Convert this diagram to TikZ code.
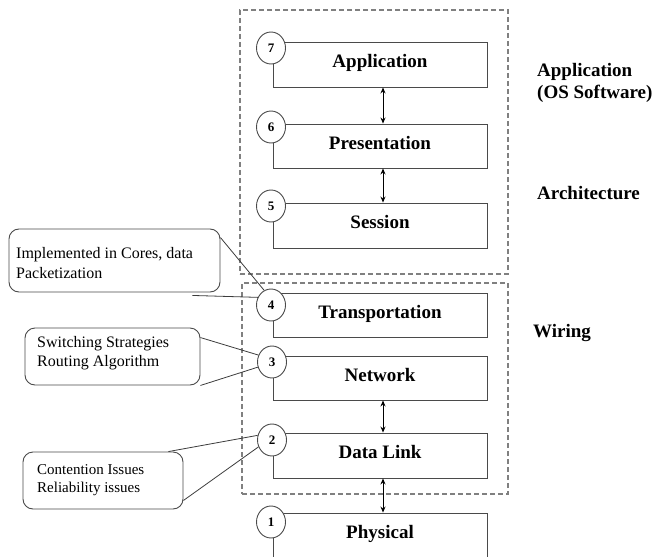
\documentclass[tikz,border=0pt]{standalone}
\usepackage{fontspec}
\setmainfont{Liberation Serif}
\usetikzlibrary{arrows.meta,shapes.geometric,calc}
\definecolor{boxgray}{HTML}{4A4A4A}
\definecolor{dashgray}{HTML}{808080}
\definecolor{leadgray}{HTML}{3C3C3C}

\begin{document}
\begin{tikzpicture}[x=1pt,y=-1pt,
  layerbox/.style={draw=boxgray, line width=0.9pt, minimum width=214pt, minimum height=45pt,
    inner sep=0pt, font=\fontsize{19}{22}\selectfont\bfseries, text height=13pt, text depth=6.5pt},
  num/.style={ellipse, draw=boxgray, fill=white, line width=0.9pt, minimum width=29pt,
    minimum height=32pt, inner sep=0pt, font=\fontsize{13}{15}\selectfont\bfseries},
  groupbox/.style={draw=dashgray, dash pattern=on 5pt off 3pt, line width=1.1pt},
  callout/.style={draw=boxgray, line width=0.9pt, rounded corners=10pt, inner sep=0pt},
  lead/.style={draw=leadgray, line width=0.8pt},
  link/.style={{Stealth[length=6pt,width=5pt]}-{Stealth[length=6pt,width=5pt]}, line width=0.9pt},
  side/.style={font=\fontsize{19}{22}\selectfont\bfseries, anchor=west, align=left, inner sep=0pt},
  note/.style={anchor=west, align=left, inner sep=0pt}
]
\useasboundingbox (0,0) rectangle (652,556);
\clip (0,0) rectangle (652,556);

% dashed groupings
\node[groupbox, minimum width=268pt, minimum height=264pt, inner sep=0pt] (upper) at (374,142) {};
\node[groupbox, minimum width=266pt, minimum height=211pt, inner sep=0pt] (lower) at (375,388.5) {};

% protocol layers
\node[layerbox] (app)   at (380,64.5)  {Application};
\node[layerbox, minimum height=44pt] (pres)  at (380,146) {Presentation};
\node[layerbox] (sess)  at (380,225.5) {Session};
\node[layerbox, minimum height=44pt] (trans) at (380,315) {Transportation};
\node[layerbox, minimum height=44pt] (net)   at (380,378) {Network};
\node[layerbox] (dl)    at (380,455.5) {Data Link};
\node[layerbox] (phys)  at (380,535.5) {Physical};

% layer numbers
\node[num] (c7) at (271,48)  {7};
\node[num] (c6) at (271,127) {6};
\node[num] (c5) at (271,206) {5};
\node[num] (c4) at (271,305) {4};
\node[num] (c3) at (272,362) {3};
\node[num] (c2) at (272,440) {2};
\node[num] (c1) at (271,522) {1};

% links between adjacent layers
\coordinate (ax) at (383,0);
\draw[link] (app.south -| ax) -- (pres.north -| ax);
\draw[link] (pres.south -| ax) -- (sess.north -| ax);
\draw[link] (net.south -| ax) -- (dl.north -| ax);
\draw[link] (dl.south -| ax) -- (phys.north -| ax);

% group captions
\node[side] (capapp)  at (537,83)  {Application\\(OS Software)};
\node[side] (caparch) at (537,193) {Architecture};
\node[side] (capwire) at (533,333) {Wiring};

% callouts
\node[callout, minimum width=211pt, minimum height=63pt] (cb1) at (114.5,260.5) {};
\node[note, font=\fontsize{16}{20}\selectfont] (t1) at (16,263)
  {Implemented in Cores, data\\Packetization};
\node[callout, minimum width=175pt, minimum height=57pt] (cb2) at (112.5,356.5) {};
\node[note, font=\fontsize{16}{19}\selectfont] (t2) at (37,353)
  {Switching Strategies\\Routing Algorithm};
\node[callout, minimum width=160pt, minimum height=57pt] (cb3) at (103,480.5) {};
\node[note, font=\fontsize{15}{18}\selectfont] (t3) at (37,480)
  {Contention Issues\\Reliability issues};

% leader lines from callouts to layer numbers
\draw[lead] ($(cb1.north east)+(0,9)$) -- (c4.115);
\draw[lead] ($(cb1.south east)+(-28,3)$) -- (c4.150);
\draw[lead] ($(cb2.north east)+(0,10)$) -- (c3.153);
\draw[lead] (cb2.south east) -- (c3.200);
\draw[lead] ($(cb3.north east)+(-15,0)$) -- (c2.162);
\draw[lead] ($(cb3.south east)+(0,-9)$) -- (c2.207);
\end{tikzpicture}
\end{document}
